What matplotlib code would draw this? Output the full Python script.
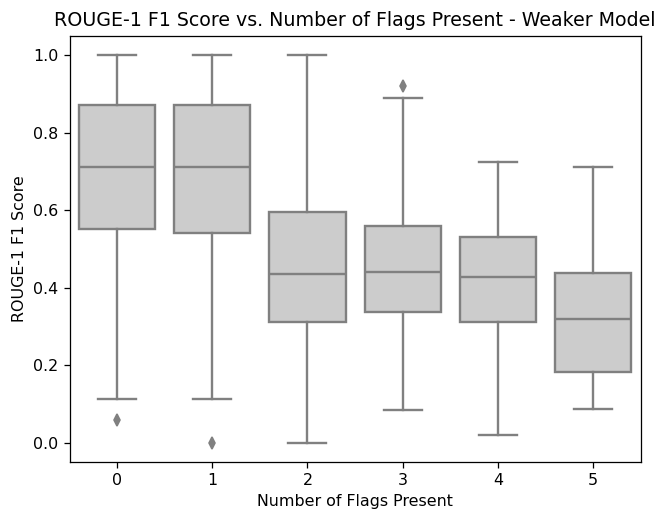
import matplotlib
matplotlib.use("Agg")
import matplotlib.pyplot as plt

categories = ["0", "1", "2", "3", "4", "5"]
q1 = [0.551, 0.541, 0.311, 0.337, 0.311, 0.182]
med = [0.712, 0.710, 0.435, 0.440, 0.427, 0.320]
q3 = [0.871, 0.871, 0.596, 0.560, 0.530, 0.438]
whislo = [0.112, 0.112, 0.0, 0.084, 0.019, 0.088]
whishi = [1.0, 1.0, 1.0, 0.890, 0.723, 0.712]
fliers = [[0.0585], [0.0], [], [0.921], [], []]

stats = []
for i in range(len(categories)):
    stats.append(dict(q1=q1[i], med=med[i], q3=q3[i], whislo=whislo[i],
                      whishi=whishi[i], fliers=fliers[i], label=categories[i]))

DPI = 114
fig = plt.figure(figsize=(659 / DPI, 510 / DPI), dpi=DPI)
ax = fig.add_axes([0.1055, 0.094, 0.8665, 0.836])
lc = "#808080"
ax.bxp(stats, positions=range(len(categories)), widths=0.8, patch_artist=True,
       boxprops=dict(facecolor="#cccccc", edgecolor=lc, linewidth=1.5),
       medianprops=dict(color=lc, linewidth=1.5),
       whiskerprops=dict(color=lc, linewidth=1.5),
       capprops=dict(color=lc, linewidth=1.5),
       flierprops=dict(marker="d", markerfacecolor=lc, markeredgecolor=lc, markersize=5))
ax.set_xlim(-0.5, len(categories) - 0.5)
ax.set_ylim(-0.05, 1.05)
ax.set_xticks(range(len(categories)))
ax.set_xticklabels(categories)
ax.set_yticks([0.0, 0.2, 0.4, 0.6, 0.8, 1.0])
ax.set_xlabel("Number of Flags Present")
ax.set_ylabel("ROUGE-1 F1 Score")
ax.set_title("ROUGE-1 F1 Score vs. Number of Flags Present - Weaker Model")
fig.savefig("out.png", dpi=DPI)
